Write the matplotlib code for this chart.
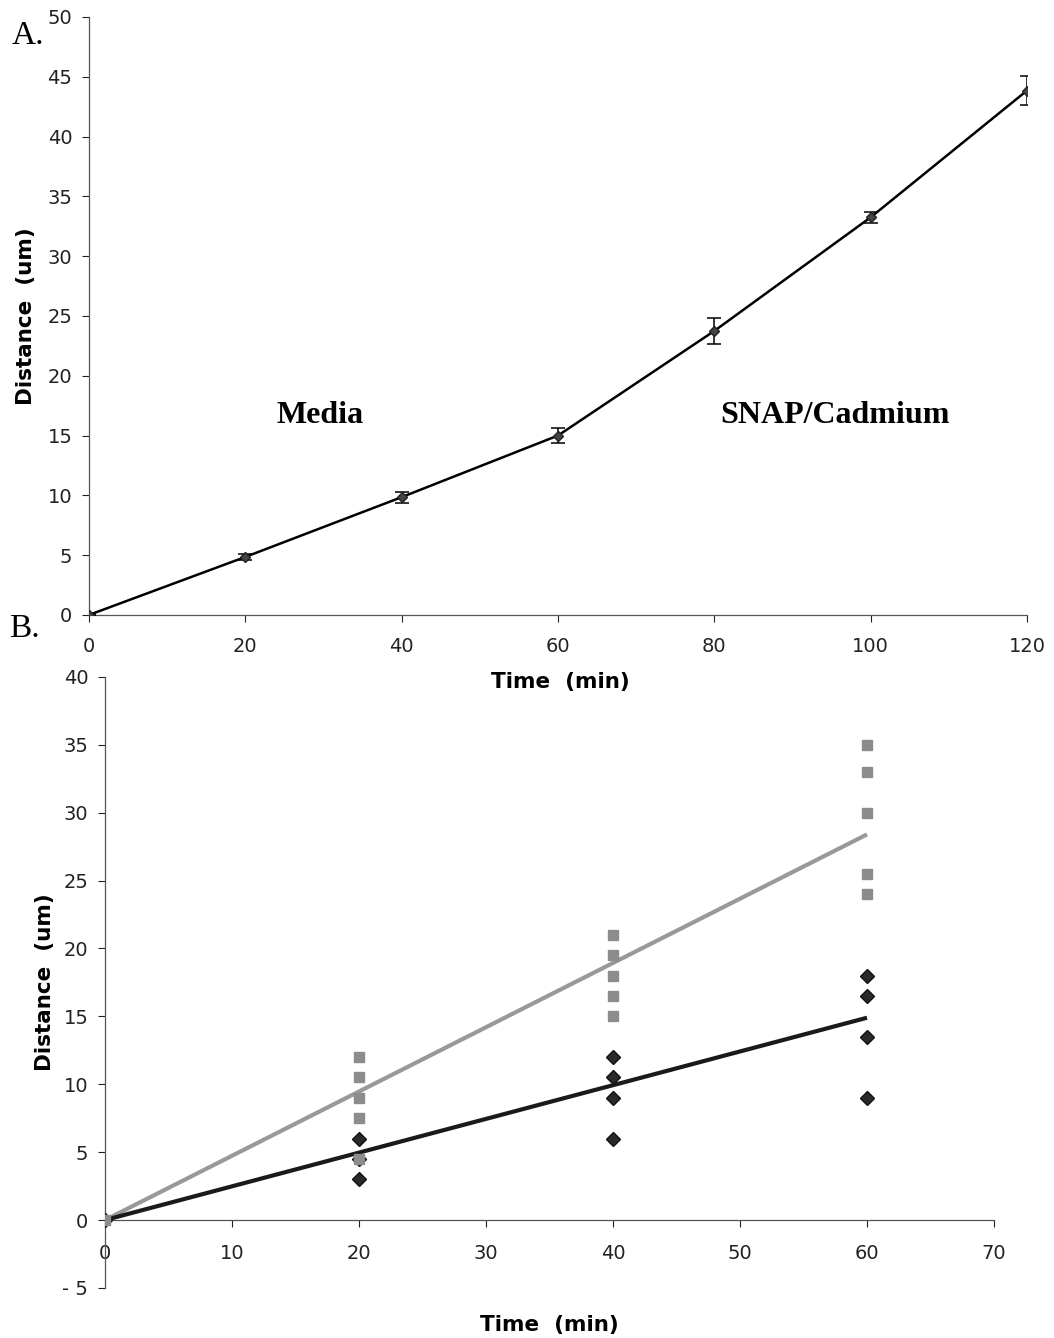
import matplotlib
matplotlib.use("Agg")
import matplotlib.pyplot as plt

# Panel A: mean migration distance over time (media, then SNAP/Cadmium)
time_a = [0, 20, 40, 60, 80, 100, 120]
dist_a = [0.0, 4.85, 9.85, 15.0, 23.75, 33.25, 43.85]
err_a = [0.0, 0.25, 0.45, 0.65, 1.1, 0.45, 1.2]

# Panel B: individual measurements
media_t = [0, 20, 20, 20, 40, 40, 40, 40, 60, 60, 60, 60]
media_d = [0, 6.0, 4.5, 3.0, 12.0, 10.5, 9.0, 6.0, 18.0, 16.5, 13.5, 9.0]
snap_t = [0, 20, 20, 20, 20, 20, 40, 40, 40, 40, 40, 60, 60, 60, 60, 60]
snap_d = [0, 12.0, 10.5, 9.0, 7.5, 4.5, 21.0, 19.5, 18.0, 16.5, 15.0,
          35.0, 33.0, 30.0, 25.5, 24.0]

# Linear trend lines (value at t = 0 and t = 60)
trend_t = [0, 60]
media_trend = [0.0, 14.9]
snap_trend = [0.0, 28.4]

sans = ["DejaVu Sans"]
serif = ["Liberation Serif", "DejaVu Serif"]
plt.rcParams["font.family"] = sans

fig = plt.figure(figsize=(10.54, 13.38), dpi=100)

tick_kw = dict(labelsize=14, direction="out", length=5, width=0.8,
               colors="#222222")
label_kw = dict(fontsize=15.5, fontweight="bold")

# ---------------- Panel A ----------------
ax1 = fig.add_axes([0.0844, 0.5404, 0.8900, 0.4469])
ax1.errorbar(time_a, dist_a, yerr=err_a, color="black", lw=1.8,
             marker="D", markersize=5.5, markerfacecolor="#444444",
             markeredgecolor="#222222", ecolor="black", elinewidth=1.1,
             capsize=5, capthick=1.1, zorder=3)
ax1.set_xlim(0, 120)
ax1.set_ylim(0, 50)
ax1.set_xticks(range(0, 121, 20))
ax1.set_yticks(range(0, 51, 5))
for s in ("top", "right"):
    ax1.spines[s].set_visible(False)
for s in ("left", "bottom"):
    ax1.spines[s].set_color("#555555")
    ax1.spines[s].set_linewidth(0.9)
ax1.tick_params(**tick_kw)
ax1.tick_params(axis="x", pad=11)
ax1.tick_params(axis="y", pad=7)
ax1.text(-8.1, 25, "Distance  (um)", rotation=90, ha="center",
         va="center", **label_kw)
ax1.text(29.6, 16.7, "Media", family=serif, fontsize=23, fontweight="bold",
         ha="center", va="center")
ax1.text(95.4, 16.7, "SNAP/Cadmium", family=serif, fontsize=23,
         fontweight="bold", ha="center", va="center")

fig.text(0.011, 0.973, "A.", family=serif, fontsize=24, ha="left", va="center")
fig.text(0.009, 0.530, "B.", family=serif, fontsize=24, ha="left", va="center")

# ---------------- Panel B ----------------
ax2 = fig.add_axes([0.0996, 0.0374, 0.8435, 0.4567])
ax2.patch.set_visible(False)
ax2.plot(trend_t, snap_trend, color="#999999", lw=3, zorder=2,
         solid_capstyle="butt")
ax2.plot(trend_t, media_trend, color="#1a1a1a", lw=3, zorder=2,
         solid_capstyle="butt")
ax2.plot(media_t, media_d, ls="none", marker="D", markersize=7,
         markerfacecolor="#2a2a2a", markeredgecolor="#111111", zorder=3)
ax2.plot(snap_t, snap_d, ls="none", marker="s", markersize=6.5,
         markerfacecolor="#8c8c8c", markeredgecolor="#8c8c8c", zorder=4)
ax2.set_xlim(0, 70)
ax2.set_ylim(-5, 40)
ax2.set_xticks(range(0, 71, 10))
ax2.set_yticks(range(-5, 41, 5))
ax2.set_yticklabels(["- 5"] + [str(v) for v in range(0, 41, 5)])
ax2.spines["bottom"].set_position(("data", 0))
for s in ("top", "right"):
    ax2.spines[s].set_visible(False)
for s in ("left", "bottom"):
    ax2.spines[s].set_color("#555555")
    ax2.spines[s].set_linewidth(0.9)
ax2.tick_params(**tick_kw)
ax2.tick_params(axis="x", pad=12)
ax2.tick_params(axis="y", pad=7)
ax2.text(35, -7.7, "Time  (min)", ha="center", va="center", **label_kw)
ax2.text(-4.7, 17.5, "Distance  (um)", rotation=90, ha="center",
         va="center", **label_kw)

# Panel A x-axis title, drawn at figure level so it sits above panel B
fig.text(0.5313, 0.4903, "Time  (min)", ha="center", va="center", **label_kw)

fig.savefig("out.png", dpi=100, facecolor="white")
